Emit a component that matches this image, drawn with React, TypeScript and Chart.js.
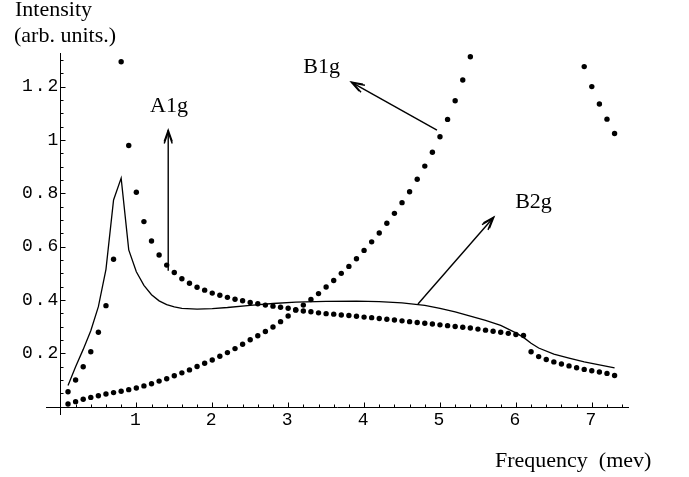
import React, { useEffect, useRef } from "react";
import { Chart, registerables } from "chart.js";

Chart.register(...registerables);

// Frequency grid (mev) of the dotted series
const frequency = [
  0.1, 0.2, 0.3, 0.4, 0.5, 0.6, 0.7, 0.8, 0.9, 1.0,
  1.1, 1.2, 1.3, 1.4, 1.5, 1.6, 1.7, 1.8, 1.9, 2.0,
  2.1, 2.2, 2.3, 2.4, 2.5, 2.6, 2.7, 2.8, 2.9, 3.0,
  3.1, 3.2, 3.3, 3.4, 3.5, 3.6, 3.7, 3.8, 3.9, 4.0,
  4.1, 4.2, 4.3, 4.4, 4.5, 4.6, 4.7, 4.8, 4.9, 5.0,
  5.1, 5.2, 5.3, 5.4, 5.5, 5.6, 5.7, 5.8, 5.9, 6.0,
  6.1, 6.2, 6.3, 6.4, 6.5, 6.6, 6.7, 6.8, 6.9, 7.0,
  7.1, 7.2, 7.3,
];

// A1g intensity (dots, peak near 0.8)
const a1gIntensity = [
  0.056, 0.100, 0.150, 0.206, 0.279, 0.379, 0.553, 1.293, 0.979, 0.804,
  0.694, 0.621, 0.569, 0.531, 0.503, 0.480, 0.463, 0.448, 0.437, 0.426,
  0.418, 0.410, 0.403, 0.397, 0.391, 0.386, 0.381, 0.377, 0.373, 0.369,
  0.364, 0.359, 0.356, 0.352, 0.349, 0.347, 0.344, 0.342, 0.339, 0.336,
  0.334, 0.331, 0.328, 0.325, 0.322, 0.319, 0.316, 0.313, 0.310, 0.307,
  0.304, 0.301, 0.298, 0.295, 0.291, 0.287, 0.283, 0.279, 0.275, 0.271,
  0.267, 0.206, 0.188, 0.177, 0.168, 0.160, 0.153, 0.146, 0.140, 0.135,
  0.130, 0.125, 0.117,
];

// B1g intensity (dots, rising; off-scale between 5.5 and 6.8)
const b1gIntensity = [
  0.010, 0.019, 0.028, 0.035, 0.041, 0.048, 0.053, 0.058, 0.064, 0.070,
  0.078, 0.086, 0.096, 0.105, 0.116, 0.127, 0.138, 0.151, 0.163, 0.175,
  0.189, 0.203, 0.218, 0.234, 0.251, 0.266, 0.282, 0.299, 0.319, 0.340,
  0.362, 0.381, 0.402, 0.424, 0.449, 0.473, 0.500, 0.526, 0.555, 0.586,
  0.618, 0.651, 0.688, 0.725, 0.765, 0.806, 0.853, 0.902, 0.954, 1.012,
  1.077, 1.147, 1.225, 1.312, null, null, null, null, null, null,
  null, null, null, null, null, null, null, null, 1.275, 1.200,
  1.135, 1.078, 1.024,
];

// B2g curve (solid line)
const b2gFrequency = [
  0.1, 0.2, 0.3, 0.4, 0.5, 0.6, 0.7, 0.8, 0.9, 1.0,
  1.1, 1.2, 1.3, 1.4, 1.5, 1.6, 1.8, 2.0, 2.2, 2.5,
  2.8, 3.1, 3.5, 3.9, 4.2, 4.5, 4.8, 5.0, 5.2, 5.4,
  5.6, 5.8, 6.0, 6.1, 6.2, 6.3, 6.5, 6.7, 6.9, 7.1, 7.3,
];
const b2gIntensity = [
  0.080, 0.150, 0.215, 0.285, 0.375, 0.515, 0.775, 0.857, 0.588, 0.506,
  0.455, 0.420, 0.397, 0.383, 0.374, 0.369, 0.366, 0.368, 0.372, 0.380,
  0.387, 0.392, 0.395, 0.396, 0.394, 0.389, 0.380, 0.369, 0.356, 0.340,
  0.324, 0.305, 0.277, 0.260, 0.238, 0.220, 0.197, 0.182, 0.168, 0.157, 0.146,
];

// Axis ticks
const xTickValues = [1, 2, 3, 4, 5, 6, 7];
const xTickLabels = ["1", "2", "3", "4", "5", "6", "7"];
const yTickValues = [0.2, 0.4, 0.6, 0.8, 1, 1.2];
const yTickLabels = ["0.2", "0.4", "0.6", "0.8", "1", "1.2"];

// Annotations in data coordinates
const labelTexts = ["A1g", "B1g", "B2g"];
const labelX = [1.18, 3.2, 5.99];
const labelY = [1.105, 1.25, 0.744];
const arrowFromX = [1.42, 4.96, 4.71];
const arrowFromY = [0.51, 1.037, 0.385];
const arrowToX = [1.42, 3.83, 5.71];
const arrowToY = [1.037, 1.217, 0.711];

const yTitleLines = ["Intensity", "(arb. units.)"];
const xTitle = "Frequency  (mev)";

const SERIF = '22px "Liberation Serif", "Times New Roman", serif';

function drawArrow(ctx: CanvasRenderingContext2D, x1: number, y1: number, x2: number, y2: number) {
  ctx.beginPath();
  ctx.moveTo(x1, y1);
  ctx.lineTo(x2, y2);
  ctx.stroke();
  const ang = Math.atan2(y2 - y1, x2 - x1);
  const L = 12;
  const a = 0.34;
  for (const back of [0, 2.2]) {
    const tx = x2 - back * Math.cos(ang);
    const ty = y2 - back * Math.sin(ang);
    ctx.beginPath();
    ctx.moveTo(tx - L * Math.cos(ang - a), ty - L * Math.sin(ang - a));
    ctx.lineTo(tx, ty);
    ctx.lineTo(tx - L * Math.cos(ang + a), ty - L * Math.sin(ang + a));
    ctx.stroke();
  }
}

const axesPlugin = {
  id: "mathAxes",
  beforeDraw(chart: any) {
    // Mathematica's Courier tick labels are widely spaced
    (chart.ctx as any).letterSpacing = "2px";
  },
  beforeDatasetsDraw(chart: any) {
    const { ctx, chartArea } = chart;
    (ctx as any).letterSpacing = "0px";
    const xs = chart.scales.x;
    const ys = chart.scales.y;
    const x0 = Math.round(xs.getPixelForValue(0)) + 0.5;
    const y0 = Math.round(ys.getPixelForValue(0)) + 0.5;
    ctx.save();
    ctx.strokeStyle = "#000";
    ctx.lineWidth = 1;
    ctx.beginPath();
    ctx.moveTo(chartArea.left, y0);
    ctx.lineTo(chartArea.right, y0);
    ctx.moveTo(x0, chartArea.top);
    ctx.lineTo(x0, chartArea.bottom);
    // x ticks (every 0.2, major every 1)
    for (let k = 1; k * 0.2 <= xs.max; k++) {
      const px = Math.round(xs.getPixelForValue(k * 0.2)) + 0.5;
      const len = k % 5 === 0 ? 5 : 3;
      ctx.moveTo(px, y0);
      ctx.lineTo(px, y0 - len);
    }
    // y ticks (every 0.05, major every 0.2)
    for (let k = 1; k * 0.05 <= ys.max; k++) {
      const py = Math.round(ys.getPixelForValue(k * 0.05)) + 0.5;
      const len = k % 4 === 0 ? 5 : 3;
      ctx.moveTo(x0, py);
      ctx.lineTo(x0 + len, py);
    }
    ctx.stroke();
    ctx.restore();
  },
  afterDraw(chart: any) {
    const { ctx } = chart;
    const xs = chart.scales.x;
    const ys = chart.scales.y;
    ctx.save();
    (ctx as any).letterSpacing = "0px";
    ctx.fillStyle = "#000";
    ctx.strokeStyle = "#000";
    ctx.lineWidth = 1.4;
    for (let i = 0; i < arrowFromX.length; i++) {
      drawArrow(
        ctx,
        xs.getPixelForValue(arrowFromX[i]),
        ys.getPixelForValue(arrowFromY[i]),
        xs.getPixelForValue(arrowToX[i]),
        ys.getPixelForValue(arrowToY[i])
      );
    }
    ctx.font = SERIF;
    ctx.textAlign = "left";
    ctx.textBaseline = "alphabetic";
    for (let i = 0; i < labelTexts.length; i++) {
      ctx.fillText(labelTexts[i], xs.getPixelForValue(labelX[i]), ys.getPixelForValue(labelY[i]));
    }
    ctx.fillText(yTitleLines[0], 15, 16);
    ctx.fillText(yTitleLines[1], 14, 42);
    ctx.fillText(xTitle, 495, 467);
    ctx.restore();
  },
};

export default function App() {
  const ref = useRef<HTMLCanvasElement>(null);

  useEffect(() => {
    const canvas = ref.current;
    if (!canvas) return;
    const dotsA = frequency.map((f, i) => ({ x: f, y: a1gIntensity[i] }));
    const dotsB = frequency
      .map((f, i) => ({ x: f, y: b1gIntensity[i] }))
      .filter((p) => p.y !== null);
    const curve = b2gFrequency.map((f, i) => ({ x: f, y: b2gIntensity[i] }));
    const tickFont = { family: '"Liberation Mono", "Courier New", monospace', size: 18 };

    const chart = new Chart(canvas, {
      type: "scatter",
      data: {
        datasets: [
          {
            label: "B2g curve",
            data: curve,
            showLine: true,
            borderColor: "#000",
            borderWidth: 1.3,
            pointRadius: 0,
            tension: 0,
            fill: false,
          },
          {
            label: "A1g",
            data: dotsA,
            showLine: false,
            pointRadius: 2.7,
            pointBackgroundColor: "#000",
            pointBorderWidth: 0,
            borderColor: "#000",
          },
          {
            label: "B1g",
            data: dotsB as any,
            showLine: false,
            pointRadius: 2.7,
            pointBackgroundColor: "#000",
            pointBorderWidth: 0,
            borderColor: "#000",
          },
        ],
      },
      options: {
        responsive: false,
        animation: false,
        devicePixelRatio: 1,
        events: [],
        layout: { padding: { left: 46, right: 60, top: 53, bottom: 62 } },
        plugins: { legend: { display: false }, tooltip: { enabled: false } },
        scales: {
          x: {
            type: "linear",
            min: -0.19,
            max: 7.49,
            position: { y: 0 } as any,
            grid: { display: false, drawTicks: false },
            border: { display: false },
            afterBuildTicks: (s: any) => {
              s.ticks = xTickValues.map((v) => ({ value: v }));
            },
            ticks: {
              font: tickFont,
              color: "#000",
              padding: 3,
              maxRotation: 0,
              autoSkip: false,
              callback: (v: any) => xTickLabels[xTickValues.indexOf(Number(v))] ?? "",
            },
          },
          y: {
            type: "linear",
            min: -0.031,
            max: 1.326,
            position: { x: 0 } as any,
            grid: { display: false, drawTicks: false },
            border: { display: false },
            afterBuildTicks: (s: any) => {
              s.ticks = yTickValues.map((v) => ({ value: v }));
            },
            ticks: {
              font: tickFont,
              color: "#000",
              padding: 5,
              autoSkip: false,
              callback: (v: any) => yTickLabels[yTickValues.indexOf(Number(v))] ?? "",
            },
          },
        },
      },
      plugins: [axesPlugin],
    });
    return () => chart.destroy();
  }, []);

  return (
    <div style={{ position: "fixed", left: 0, top: 0, width: 689, height: 477, background: "#fff" }}>
      <canvas ref={ref} width={689} height={477} style={{ display: "block" }} />
    </div>
  );
}
